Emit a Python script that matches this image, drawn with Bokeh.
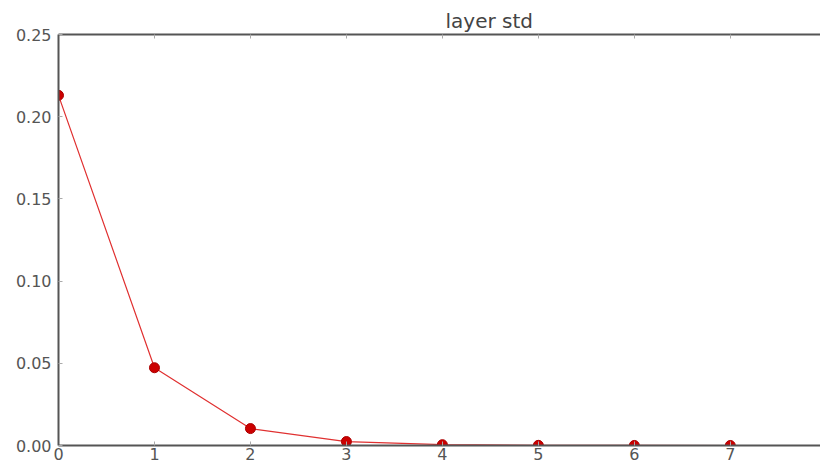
from bokeh.plotting import figure
from bokeh.models import FixedTicker, LinearAxis, Range1d, PrintfTickFormatter, Title
from bokeh.embed import file_html
from bokeh.resources import INLINE

layers = [0, 1, 2, 3, 4, 5, 6, 7]
layer_std = [0.213, 0.0473, 0.0103, 0.0024, 0.0005, 0.0001, 0.00003, 0.00001]
x_ticks = [0, 1, 2, 3, 4, 5, 6, 7]
y_ticks = [0.0, 0.05, 0.10, 0.15, 0.20, 0.25]

FONT = "DejaVu Sans"

p = figure(width=820, height=462, output_backend="svg", toolbar_location=None,
           x_range=Range1d(0, 7.94), y_range=Range1d(0, 0.25),
           min_border_left=58, min_border_right=0, min_border_top=34,
           min_border_bottom=16, x_axis_location="below")
p.title = None
p.outline_line_color = None
p.grid.visible = False
p.background_fill_color = "white"
p.border_fill_color = "white"

for ax in [p.xaxis[0], p.yaxis[0]]:
    ax.axis_line_color = "#555555"
    ax.axis_line_width = 2
    ax.major_tick_in = 4
    ax.major_tick_out = 0
    ax.minor_tick_line_color = None
    ax.major_tick_line_color = "#aaaaaa"
    ax.major_label_text_font = FONT
    ax.major_label_text_font_size = "16px"
    ax.major_label_text_color = "#555555"

p.xaxis[0].ticker = FixedTicker(ticks=x_ticks)
p.xaxis[0].major_label_standoff = 2
p.yaxis[0].ticker = FixedTicker(ticks=y_ticks)
p.yaxis[0].formatter = PrintfTickFormatter(format="%.2f")
p.yaxis[0].major_label_standoff = 7

top = LinearAxis(ticker=FixedTicker(ticks=x_ticks), axis_line_color="#555555",
                 axis_line_width=2, major_tick_in=4, major_tick_out=0,
                 major_tick_line_color="#aaaaaa", minor_tick_line_color=None,
                 major_label_text_font_size="0px", major_label_text_color=None)
p.add_layout(top, "above")

p.line(layers, layer_std, line_color="#e03030", line_width=1.2)
p.scatter(layers, layer_std, size=10, fill_color="#cc0000", line_color="#aa0000")

t = Title(text="layer std", align="left", offset=387, text_font=FONT,
          text_font_size="20px", text_font_style="normal", text_color="#444444",
          standoff=4)
p.add_layout(t, "above")

open("out.html", "w").write(file_html(p, INLINE))
